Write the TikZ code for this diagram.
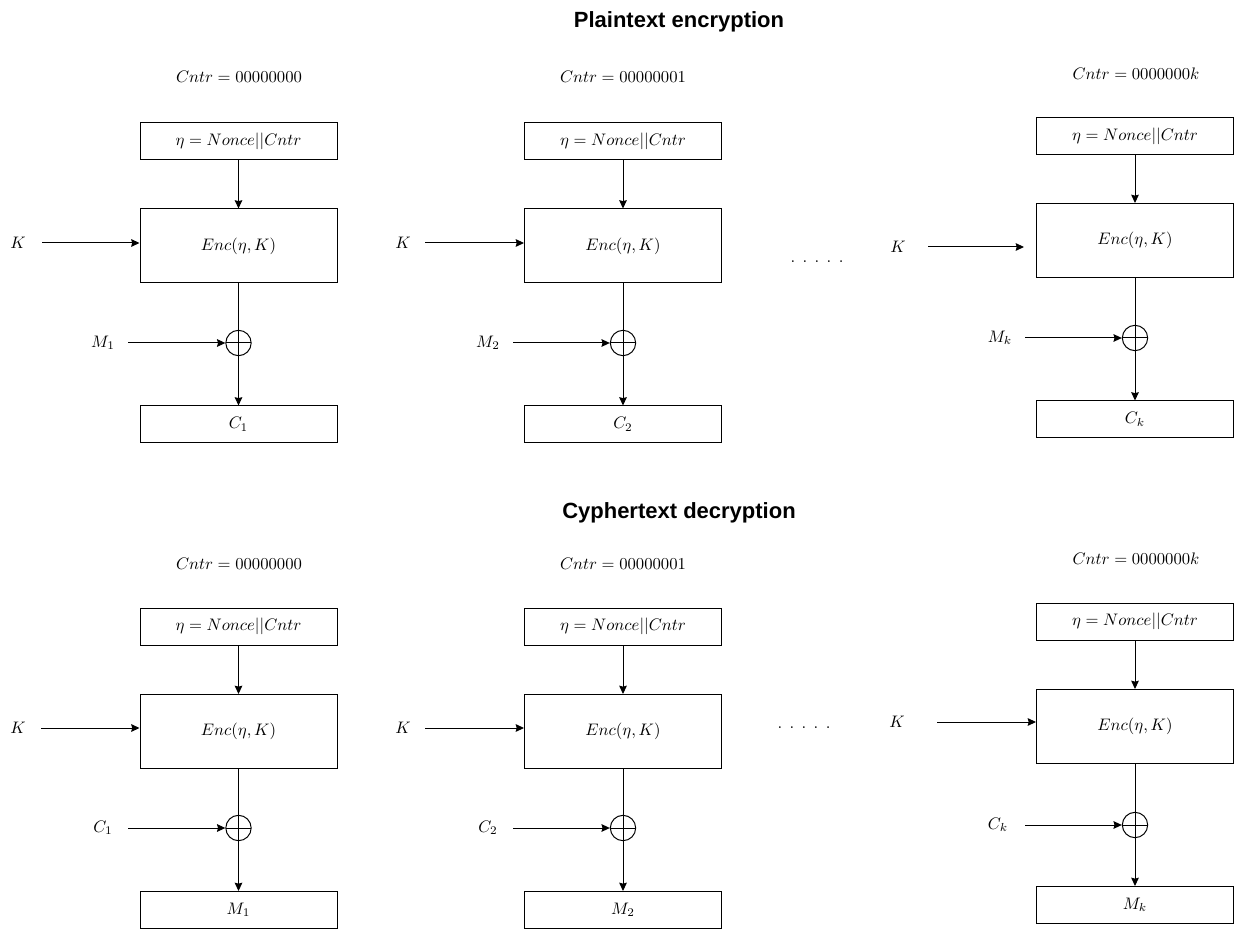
\documentclass[tikz,border=0pt]{standalone}
\usepackage{fontspec}
\newfontfamily\titlefont{Liberation Sans}
\usetikzlibrary{arrows.meta}
\begin{document}
\begin{tikzpicture}[x=0.6pt,y=-0.6pt,
  line width=0.6pt,
  arr/.style={-{Stealth[length=5pt,width=4.6pt,inset=0.6pt]}},
  smallbox/.style={draw, minimum width=118.2pt, minimum height=22.2pt, inner sep=0pt},
  encbox/.style={draw, minimum width=118.2pt, minimum height=44.4pt, inner sep=0pt},
  xorc/.style={draw, circle, minimum size=15.2pt, inner sep=0pt,
    path picture={\draw (path picture bounding box.north) -- (path picture bounding box.south)
                        (path picture bounding box.west) -- (path picture bounding box.east);}},
  lbl/.style={inner sep=0pt},
  title/.style={font=\titlefont\bfseries\fontsize{13.2}{15}\selectfont, inner sep=0pt}
]
\useasboundingbox (0,0) rectangle (1236,929);

% ---------- titles ----------
\node[title] (t1) at (679,22) {Plaintext encryption};
\node[title] (t2) at (679,513) {Cyphertext decryption};

% ================= TOP ROW =================
% column 1
\node[lbl] (cA1) at (239,77) {$Cntr = 00000000$};
\node[smallbox] (nA1) at (238.5,141) {$\eta = Nonce||Cntr$};
\node[encbox] (eA1) at (238.5,246) {$Enc(\eta, K)$};
\node[xorc] (xA1) at (238.5,343) {};
\node[smallbox] (oA1) at (238.5,424.5) {$C_1$};
\node[lbl] (kA1) at (18,243) {$K$};
\node[lbl] (mA1) at (103,343) {$M_1$};
\coordinate (kaA1) at (42,243);
\coordinate (maA1) at (128,343);
\draw[arr] (nA1) -- (eA1);
\draw (eA1) -- (xA1);
\draw[arr] (xA1) -- (oA1);
\draw[arr] (kaA1) -- (kaA1 -| eA1.west);
\draw[arr] (maA1) -- (xA1);

% column 2
\node[lbl] (cA2) at (623,77) {$Cntr = 00000001$};
\node[smallbox] (nA2) at (623,141) {$\eta = Nonce||Cntr$};
\node[encbox] (eA2) at (623,246) {$Enc(\eta, K)$};
\node[xorc] (xA2) at (623,343) {};
\node[smallbox] (oA2) at (623,424.5) {$C_2$};
\node[lbl] (kA2) at (403,243) {$K$};
\node[lbl] (mA2) at (488,343) {$M_2$};
\coordinate (kaA2) at (425,243);
\coordinate (maA2) at (513,343);
\draw[arr] (nA2) -- (eA2);
\draw (eA2) -- (xA2);
\draw[arr] (xA2) -- (oA2);
\draw[arr] (kaA2) -- (kaA2 -| eA2.west);
\draw[arr] (maA2) -- (xA2);

\node[lbl] (dA) at (817,262) {. . . . .};

% column 3
\node[lbl] (cA3) at (1136,74) {$Cntr = 0000000k$};
\node[smallbox] (nA3) at (1135,136) {$\eta = Nonce||Cntr$};
\node[encbox] (eA3) at (1135,240.5) {$Enc(\eta, K)$};
\node[xorc] (xA3) at (1135,338) {};
\node[smallbox] (oA3) at (1135,419.5) {$C_k$};
\node[lbl] (kA3) at (898,247) {$K$};
\node[lbl] (mA3) at (1000,338) {$M_k$};
\coordinate (kaA3) at (928,247);
\coordinate (kbA3) at (1024,247);
\coordinate (maA3) at (1025,338);
\draw[arr] (nA3) -- (eA3);
\draw (eA3) -- (xA3);
\draw[arr] (xA3) -- (oA3);
\draw[arr] (kaA3) -- (kbA3);
\draw[arr] (maA3) -- (xA3);

% ================= BOTTOM ROW =================
% column 1
\node[lbl] (cB1) at (239,564) {$Cntr = 00000000$};
\node[smallbox] (nB1) at (238.5,626.5) {$\eta = Nonce||Cntr$};
\node[encbox] (eB1) at (238.5,731.5) {$Enc(\eta, K)$};
\node[xorc] (xB1) at (238.5,828) {};
\node[smallbox] (oB1) at (238.5,910) {$M_1$};
\node[lbl] (kB1) at (18,728) {$K$};
\node[lbl] (mB1) at (103,828) {$C_1$};
\coordinate (kaB1) at (41,728);
\coordinate (maB1) at (128,828);
\draw[arr] (nB1) -- (eB1);
\draw (eB1) -- (xB1);
\draw[arr] (xB1) -- (oB1);
\draw[arr] (kaB1) -- (kaB1 -| eB1.west);
\draw[arr] (maB1) -- (xB1);

% column 2
\node[lbl] (cB2) at (623,564) {$Cntr = 00000001$};
\node[smallbox] (nB2) at (623,626.5) {$\eta = Nonce||Cntr$};
\node[encbox] (eB2) at (623,731.5) {$Enc(\eta, K)$};
\node[xorc] (xB2) at (623,828) {};
\node[smallbox] (oB2) at (623,910) {$M_2$};
\node[lbl] (kB2) at (403,728) {$K$};
\node[lbl] (mB2) at (488,828) {$C_2$};
\coordinate (kaB2) at (425,728);
\coordinate (maB2) at (513,828);
\draw[arr] (nB2) -- (eB2);
\draw (eB2) -- (xB2);
\draw[arr] (xB2) -- (oB2);
\draw[arr] (kaB2) -- (kaB2 -| eB2.west);
\draw[arr] (maB2) -- (xB2);

\node[lbl] (dB) at (804,728) {. . . . .};

% column 3
\node[lbl] (cB3) at (1136,559) {$Cntr = 0000000k$};
\node[smallbox] (nB3) at (1135,621.5) {$\eta = Nonce||Cntr$};
\node[encbox] (eB3) at (1135,726.5) {$Enc(\eta, K)$};
\node[xorc] (xB3) at (1135,825) {};
\node[smallbox] (oB3) at (1135,905) {$M_k$};
\node[lbl] (kB3) at (897,722) {$K$};
\node[lbl] (mB3) at (998,825) {$C_k$};
\coordinate (kaB3) at (937,722);
\coordinate (maB3) at (1025,825);
\draw[arr] (nB3) -- (eB3);
\draw (eB3) -- (xB3);
\draw[arr] (xB3) -- (oB3);
\draw[arr] (kaB3) -- (kaB3 -| eB3.west);
\draw[arr] (maB3) -- (xB3);
\end{tikzpicture}
\end{document}
